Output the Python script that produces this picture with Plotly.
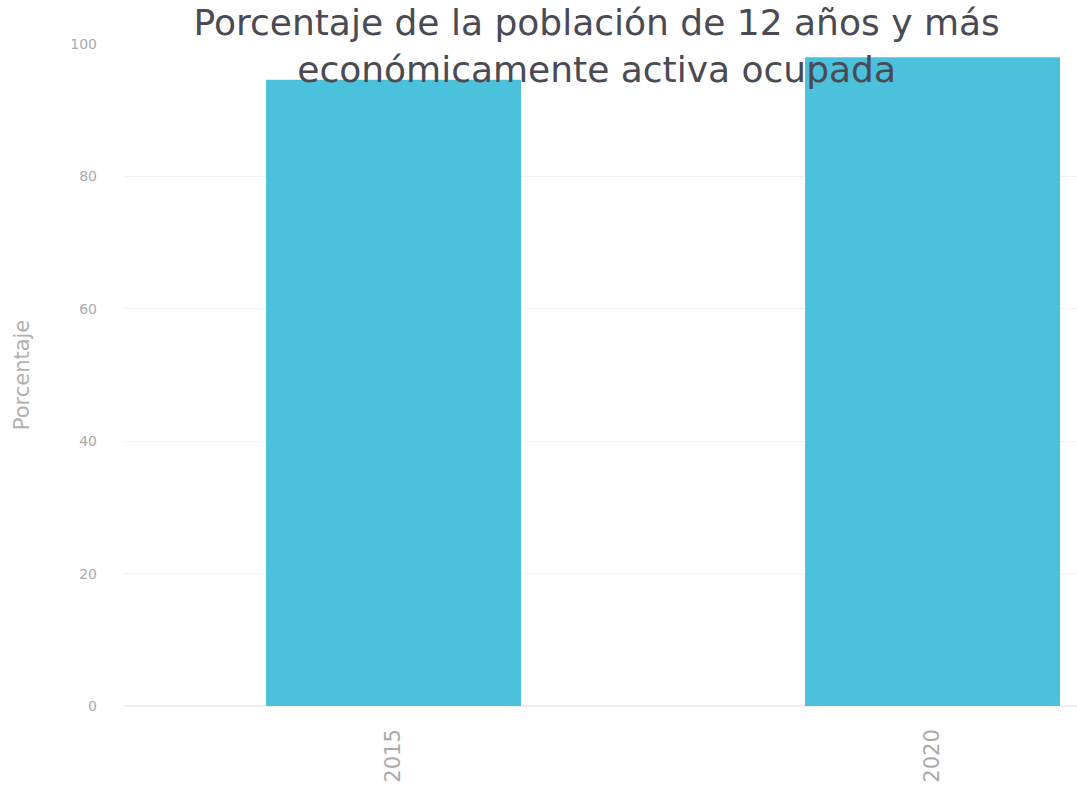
import plotly.graph_objects as go

years = ["2015", "2020"]
porcentaje = [94.6, 98.0]

fig = go.Figure()
fig.add_trace(go.Bar(x=years, y=porcentaje, marker_color="#4cc1dc", width=0.473,
                     marker_line_width=0, showlegend=False))

fig.update_layout(
    width=1077, height=806,
    template="plotly_white",
    paper_bgcolor="white", plot_bgcolor="white",
    margin=dict(l=124, r=0, t=44, b=100),
    font=dict(family="DejaVu Sans", color="#999999"),
    title=dict(text="Porcentaje de la población de 12 años y más<br>económicamente activa ocupada",
               x=0.554, xanchor="center", y=0.956, yanchor="top",
               font=dict(family="DejaVu Sans", size=36, color="#4a4a55")),
)
fig.update_xaxes(type="category", range=[-0.5, 1.268], tickangle=-90, showgrid=False,
                 showline=False, ticks="", tickfont=dict(size=21, color="#aaaaaa"),
                 ticklabelstandoff=18)
fig.update_yaxes(range=[0, 100], dtick=20, showgrid=True, gridcolor="#f3f3f3",
                 zeroline=True, zerolinecolor="#eeeeee", showline=False,
                 title=dict(text="Porcentaje", font=dict(size=21, color="#b0b0b0"), standoff=34),
                 tickfont=dict(size=14, color="#aaaaaa"), ticklabelstandoff=26)

fig.write_html("out.html", config={"displayModeBar": False},
               post_script="document.body.style.margin='0';")
